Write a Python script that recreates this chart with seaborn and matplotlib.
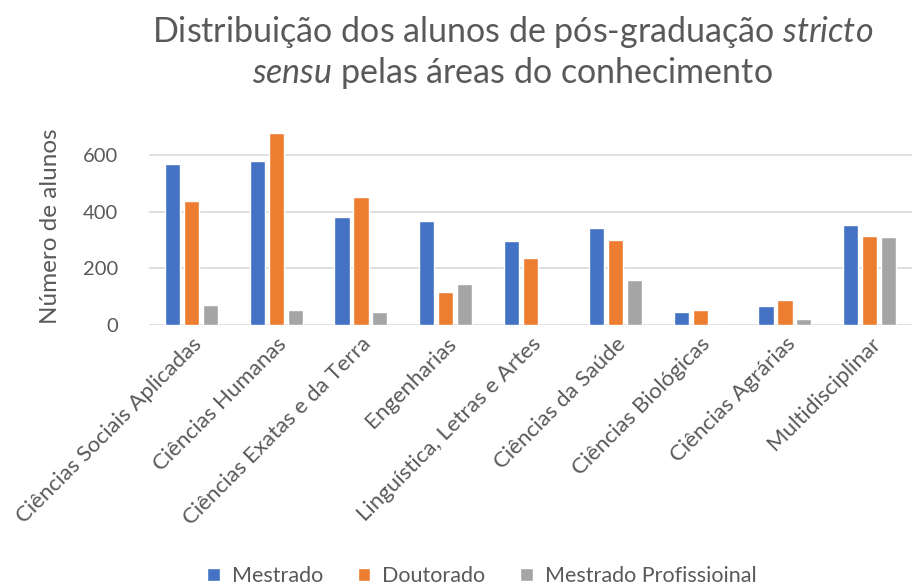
import matplotlib
matplotlib.use("Agg")
import matplotlib.pyplot as plt
import seaborn as sns
import pandas as pd

categories = ["Ciências Sociais Aplicadas", "Ciências Humanas", "Ciências Exatas e da Terra",
              "Engenharias", "Linguística, Letras e Artes", "Ciências da Saúde",
              "Ciências Biológicas", "Ciências Agrárias", "Multidisciplinar"]
mestrado = [568, 579, 383, 369, 298, 343, 47, 66, 355]
doutorado = [437, 678, 454, 116, 237, 301, 54, 88, 316]
mestrado_prof = [71, 53, 46, 146, 0, 159, 0, 21, 312]
series_names = ["Mestrado", "Doutorado", "Mestrado Profissioinal"]
colors = ["#4472C4", "#ED7D31", "#A5A5A5"]

rows = []
for name, vals in zip(series_names, [mestrado, doutorado, mestrado_prof]):
    for c, v in zip(categories, vals):
        rows.append({"Área": c, "Série": name, "Alunos": v})
df = pd.DataFrame(rows)

sns.set_theme(style="white")
plt.rcParams["font.family"] = ["Lato", "DejaVu Sans"]
plt.rcParams["mathtext.fontset"] = "custom"
plt.rcParams["mathtext.it"] = "Lato:italic"
plt.rcParams["mathtext.rm"] = "Lato"

txt = "#595959"
fig = plt.figure(figsize=(9.14, 5.85), dpi=100)
ax = fig.add_axes([0.163, 0.4444, 0.835, 0.3385])

sns.barplot(data=df, x="Área", y="Alunos", hue="Série", palette=colors,
            order=categories, hue_order=series_names, width=0.67, gap=0.2,
            saturation=1, ax=ax, errorbar=None)

ax.set_ylim(0, 700)
ax.set_yticks([0, 200, 400, 600])
ax.set_xlim(-0.5, len(categories) - 0.5)
ax.grid(axis="y", color="#d9d9d9", linewidth=1.2)
ax.set_axisbelow(True)
for s in ax.spines.values():
    s.set_visible(False)
ax.tick_params(axis="both", length=0, colors=txt)
ax.tick_params(axis="y", pad=22, labelsize=14.5)
ax.set_xlabel("")
ax.set_ylabel("Número de alunos", fontsize=17.5, color=txt, labelpad=16)
ax.set_xticks(range(len(categories)))
ax.set_xticklabels(categories, rotation=45, ha="right", rotation_mode="anchor",
                   fontsize=16, color=txt)
for lab in ax.get_xticklabels():
    lab.set_y(-0.02)

fig.text(0.561, 0.945, "Distribuição dos alunos de pós-graduação $stricto$",
         ha="center", va="center", fontsize=24.5, color=txt)
fig.text(0.561, 0.875, "$sensu$ pelas áreas do conhecimento",
         ha="center", va="center", fontsize=24.5, color=txt)

handles, labels = ax.get_legend_handles_labels()
ax.legend_.remove()
fig.legend(handles, labels, loc="lower center", bbox_to_anchor=(0.527, -0.035),
           ncol=3, frameon=False, fontsize=15.5, handlelength=0.6, handleheight=0.6,
           columnspacing=1.6, handletextpad=0.55, labelcolor=txt)

fig.savefig("out.png", dpi=100)
